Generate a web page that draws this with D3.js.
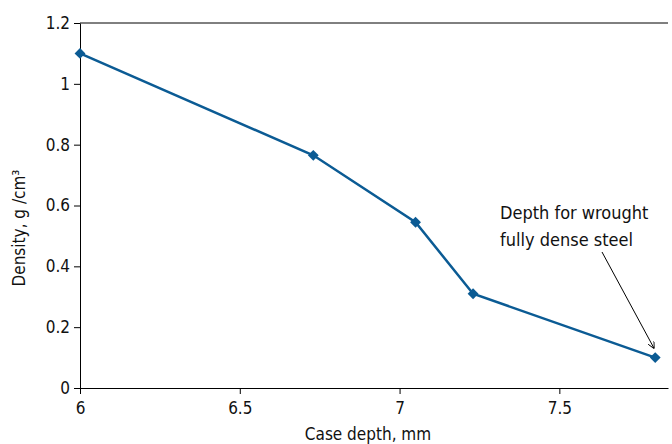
<!DOCTYPE html>
<html><head><meta charset="utf-8">
<script src="https://cdn.jsdelivr.net/npm/d3@7"></script>
<style>body{margin:0;background:#fff}svg text{font-family:"DejaVu Sans Condensed","DejaVu Sans",sans-serif;}</style>
</head><body><svg id="c" width="672" height="444"></svg>
<script>
const caseDepth = [6, 6.73, 7.05, 7.23, 7.8];
const density = [1.1, 0.765, 0.545, 0.31, 0.1];
const xTicks = [6, 6.5, 7, 7.5];
const yTicks = [0, 0.2, 0.4, 0.6, 0.8, 1, 1.2];
const xLabel = "Case depth, mm";
const yLabel = "Density, g /cm³";
const note = ["Depth for wrought", "fully dense steel"];

const svg = d3.select("#c");
const m = {l: 80, t: 23, r: 668, b: 388};
const x = d3.scaleLinear().domain([6, 7.84]).range([m.l, m.r]);
const y = d3.scaleLinear().domain([0, 1.2]).range([m.b, m.t]);
const col = "#0b5b94";
const fs = 17;

svg.append("line").attr("x1", m.l).attr("x2", m.r).attr("y1", m.t).attr("y2", m.t).attr("stroke", "#000");

const gx = svg.append("g").attr("transform", `translate(0,${m.b})`)
  .call(d3.axisBottom(x).tickValues(xTicks).tickFormat(d3.format("")).tickSize(6).tickSizeOuter(0));
const gy = svg.append("g").attr("transform", `translate(${m.l},0)`)
  .call(d3.axisLeft(y).tickValues(yTicks).tickFormat(d3.format("")).tickSize(6).tickSizeOuter(0));
[gx, gy].forEach(g => {
  g.selectAll("path,line").attr("stroke", "#000");
  g.selectAll("text").attr("font-size", fs).attr("fill", "#111").style("font-family", '"DejaVu Sans Condensed","DejaVu Sans",sans-serif');
});
gx.selectAll("text").attr("dy", "1.0em");
gy.selectAll("text").attr("x", -10);

const pts = caseDepth.map((d, i) => [d, density[i]]);
svg.append("path").datum(pts)
  .attr("d", d3.line().x(d => x(d[0])).y(d => y(d[1])))
  .attr("fill", "none").attr("stroke", col).attr("stroke-width", 2.5);
svg.selectAll(".pt").data(pts).join("path")
  .attr("transform", d => `translate(${x(d[0])},${y(d[1])})`)
  .attr("d", d3.symbol(d3.symbolDiamond2, 75)())
  .attr("fill", col);

svg.append("text").attr("x", 368).attr("y", 440).attr("text-anchor", "middle")
  .attr("font-size", fs).attr("fill", "#111").text(xLabel);
svg.append("text").attr("transform", `translate(25,228) rotate(-90)`)
  .attr("text-anchor", "middle").attr("font-size", fs).attr("fill", "#111").text(yLabel);

note.forEach((t, i) => svg.append("text").attr("x", 500).attr("y", 219 + i * 27)
  .attr("font-size", 18).attr("fill", "#111").text(t));

svg.append("defs").append("marker").attr("id", "ah").attr("viewBox", "0 0 10 10")
  .attr("refX", 10).attr("refY", 5).attr("markerWidth", 7).attr("markerHeight", 7).attr("orient", "auto")
  .append("path").attr("d", "M0,0 L10,5 L0,10").attr("fill", "none").attr("stroke", "#000").attr("stroke-width", 1.3);
const last = pts[pts.length - 1];
svg.append("line").attr("x1", 602).attr("y1", 252).attr("x2", x(last[0]) - 1).attr("y2", y(last[1]) - 9)
  .attr("stroke", "#000").attr("stroke-width", 1).attr("marker-end", "url(#ah)");
</script></body></html>
